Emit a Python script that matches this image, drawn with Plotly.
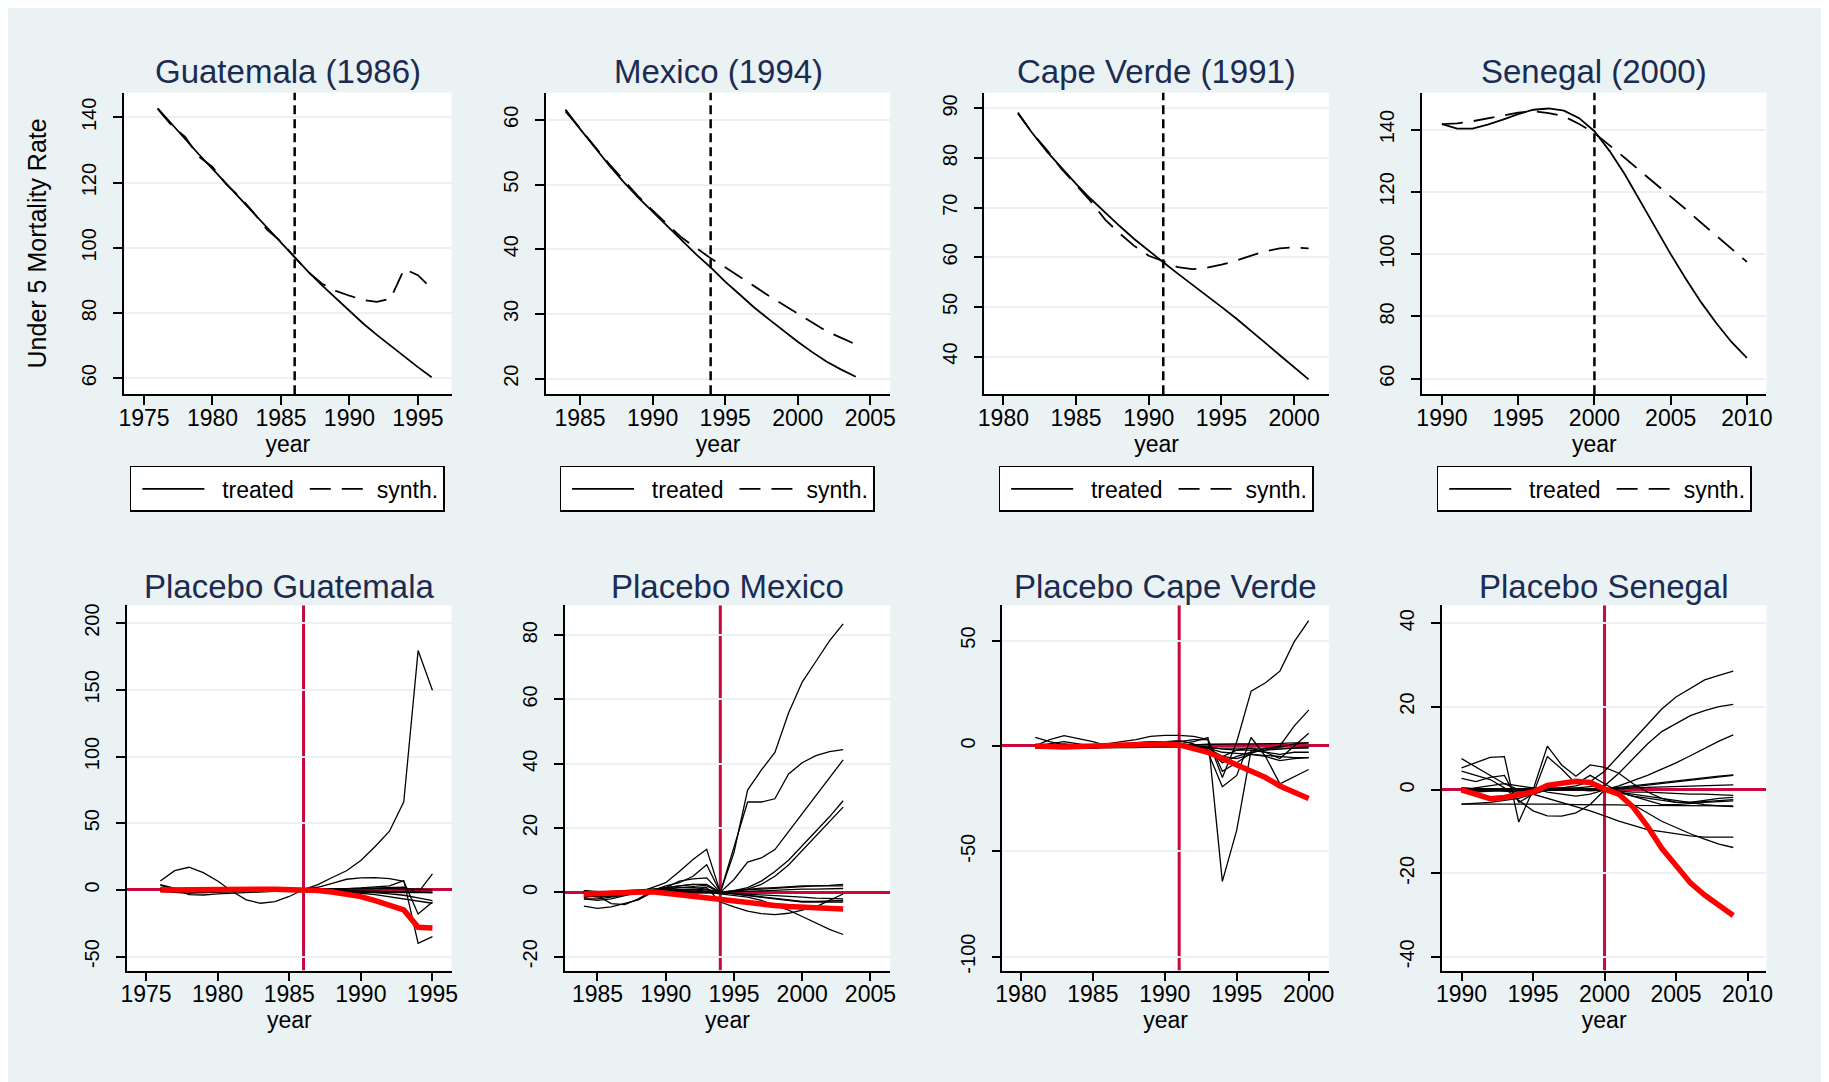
import plotly.graph_objects as go

# ---------------- DATA ----------------
# Top row: treated vs synthetic under-5 mortality
gua_years = list(range(1976, 1997))
gua_treated = [142.8, 138.0, 133.3, 128.7, 124.2, 119.7, 115.2, 110.5, 106.0, 101.5, 97.0,
               92.6, 88.5, 84.5, 80.6, 76.8, 73.3, 70.0, 66.6, 63.4, 60.3]
gua_synth = [142.6, 137.6, 134.0, 128.0, 124.8, 119.5, 115.6, 110.8, 105.5, 101.9, 97.1,
             92.5, 89.0, 86.8, 85.3, 84.0, 83.4, 84.4, 93.5, 91.6, 87.5]

mex_years = list(range(1984, 2005))
mex_treated = [61.6, 58.6, 55.8, 53.0, 50.4, 48.0, 45.8, 43.6, 41.4, 39.2, 37.2,
               35.0, 33.0, 31.0, 29.2, 27.4, 25.7, 24.1, 22.6, 21.4, 20.3]
mex_synth = [61.3, 58.7, 55.9, 53.2, 50.7, 48.2, 46.0, 43.9, 41.8, 40.2, 38.6,
             37.2, 35.8, 34.3, 32.8, 31.4, 30.0, 28.6, 27.3, 26.3, 25.3]

cpv_years = list(range(1981, 2002))
cpv_treated = [89.0, 85.0, 81.3, 78.0, 74.8, 71.8, 69.0, 66.3, 63.7, 61.3, 59.0,
               56.7, 54.5, 52.3, 50.0, 47.7, 45.3, 42.8, 40.3, 37.8, 35.4]
cpv_synth = [89.2, 85.0, 81.6, 77.8, 74.6, 71.3, 67.6, 64.8, 62.3, 60.3, 59.2,
             58.0, 57.6, 57.9, 58.5, 59.3, 60.3, 61.2, 61.8, 62.0, 61.8]

sen_years = list(range(1990, 2011))
sen_treated = [141.8, 140.3, 140.3, 141.6, 143.2, 145.0, 146.4, 146.8, 146.1, 143.7, 139.5,
               133.1, 125.6, 117.1, 108.5, 100.0, 92.0, 84.5, 77.8, 71.7, 66.7]
sen_synth = [141.8, 142.0, 142.7, 143.7, 144.6, 145.5, 145.9, 145.3, 144.3, 141.8, 138.9,
             135.0, 130.9, 126.7, 122.6, 118.7, 114.4, 110.1, 105.9, 101.6, 97.5]

# Bottom row: placebo gaps (black) and treated gap (red)
gua_pl_years = list(range(1976, 1996))
gua_gap = [0, 0.2, 0.3, 0.2, 0.1, 0.3, 0.5, 0.6, 0.5, 0.3, 0, -0.5, -1.5, -3, -5, -8, -11, -15, -28, -28.5]
gua_placebos = [
    [6.7, 14.4, 17.0, 13.0, 6.7, -1.0, -7.5, -10.0, -8.8, -4.9, 0.3, 4.0, 9.3, 14.4, 22.0, 32.5, 44.0, 66.0, 179.4, 149.7],
    [4.0, 1.0, -1.5, -2.0, -1.5, -1.0, -0.5, 0, 0.3, 0.5, 0.5, 2.0, 5.0, 8.0, 9.0, 9.2, 8.5, 6.5, -18.0, -9.0],
    [3.5, 0.5, -3.5, -3.8, -3.0, -2.5, -1.5, -1.0, -0.5, -0.5, 0, 0.3, 0.5, 1.0, 1.5, 2.0, 3.0, 7.0, -40.0, -35.0],
    [0.5, 0.5, 0.3, 0.2, 0.1, 0, 0, 0, 0.1, 0.2, 0.2, 0.4, 0.6, 0.8, 1.0, 1.2, 1.5, 2.0, -2.0, 12.0],
    [-1.0, -2.0, -2.5, -2.0, -1.5, -1.0, -0.5, -0.5, -0.3, 0, 0, -0.5, -1.0, -1.5, -2.5, -3.5, -5.0, -7.0, -8.5, -10.0],
    [1.5, 0.5, -0.5, -1.0, -1.0, -0.8, -0.5, -0.2, 0, 0.2, 0.3, 0.2, 0, -0.5, -1.0, -2.0, -3.0, -4.0, -6.0, -8.0],
    [0, -0.5, -1.0, -1.0, -1.0, -0.8, -0.5, -0.5, -0.5, -0.5, -0.5, -0.8, -1.0, -1.0, -1.0, -1.0, -1.2, -1.5, -1.5, -1.5],
    [-0.5, -1.0, -1.5, -1.5, -1.2, -1.0, -1.0, -1.0, -1.0, -1.0, -1.0, -1.2, -1.5, -1.8, -2.0, -2.0, -2.0, -2.0, -2.0, -2.0],
    [0.5, 0.3, 0, -0.3, -0.5, -0.5, -0.3, 0, 0.2, 0.3, 0.3, 0.5, 0.8, 1.0, 1.0, 1.0, 1.0, 1.0, 0.5, 0],
    [1.0, 0.5, 0, -0.5, -0.8, -0.8, -0.5, -0.2, 0, 0, 0, -0.3, -0.5, -0.8, -1.0, -1.3, -1.5, -1.5, -1.8, -2.0],
]

mex_pl_years = list(range(1984, 2004))
mex_gap = [-0.5, -0.3, 0, 0.2, 0.3, 0.2, -0.3, -0.8, -1.4, -2.0, -2.5, -3.0, -3.4, -3.8, -4.1, -4.4, -4.6, -4.8, -5.0, -5.2]
mex_placebos = [
    [-1.0, -1.5, -1.2, -0.8, -0.3, 0.5, 1.5, 2.0, 2.5, 2.0, 0, 12.4, 31.8, 38.0, 43.5, 55.8, 65.4, 71.8, 78.2, 83.5],
    [0.5, 0, -0.5, -0.5, 0, 0.8, 1.5, 2.0, 2.5, 2.5, 0, 14.0, 28.1, 28.1, 29.1, 36.8, 40.3, 42.5, 43.8, 44.4],
    [-2.0, -2.5, -2.0, -1.0, 0, 1.5, 3.0, 6.5, 10.2, 13.4, 0, 4.0, 9.4, 10.7, 13.3, 18.9, 24.5, 30.0, 35.5, 41.2],
    [0.3, -0.5, -1.0, -0.5, 0, 0.5, 2.0, 3.0, 5.0, 8.6, 0, 0.5, 1.5, 3.5, 6.5, 10.0, 14.5, 19.0, 23.5, 28.5],
    [-1.5, -1.0, -0.5, 0, 0.3, 0.8, 1.5, 3.5, 4.2, 4.5, 0, 0.3, 1.0, 2.5, 5.0, 8.5, 13.0, 17.5, 22.0, 26.5],
    [0, 0, 0.3, 0.5, 0.8, 1.0, 0.8, 0.5, 0.3, 0.1, -0.5, -1.0, -1.5, -2.5, -4.0, -5.5, -7.5, -9.5, -11.5, -13.1],
    [-4.3, -5.0, -4.5, -3.5, -2.3, 0, 1.0, 1.5, 1.8, 1.5, -3.0, -4.5, -5.8, -6.6, -6.9, -6.5, -5.5, -4.5, -2.5, -0.5],
    [0, -1.0, -3.5, -3.8, -2.0, 0.5, 1.2, 1.5, 1.5, 1.0, 0, -0.5, -1.0, -1.5, -2.0, -2.5, -2.8, -2.8, -2.6, -2.5],
    [-1.0, -1.2, -1.0, -0.5, 0, 0.2, 0.3, 0.5, 0.8, 0.5, 0, 0.3, 0.8, 1.0, 1.3, 1.6, 1.8, 2.0, 2.2, 2.5],
    [-0.5, -0.5, -0.3, 0, 0.2, 0.3, 0.3, 0.3, 0.2, 0, 0, 0.5, 1.0, 1.3, 1.5, 1.8, 2.0, 2.0, 2.0, 2.0],
    [-2.0, -2.0, -1.5, -0.8, 0, 0.5, 0.8, 1.0, 1.0, 0.8, 0, -0.3, -0.5, -0.8, -1.0, -1.3, -1.5, -1.8, -2.0, -2.0],
    [0.5, 0.2, 0, 0, 0, 0, 0.1, 0.1, 0, 0, 0, 0.2, 0.3, 0.5, 0.7, 0.8, 1.0, 1.0, 1.2, 1.2],
    [-1.5, -1.2, -0.8, -0.5, 0, 0.3, 0.5, 0.5, 0.3, 0.2, 0, -0.5, -1.0, -1.5, -2.0, -2.5, -3.0, -3.0, -3.0, -3.0],
]

cpv_pl_years = list(range(1981, 2001))
cpv_gap = [0, -0.5, -0.5, -0.3, 0, 0.3, 0.5, 0.8, 1.0, 1.0, 0.5, -1.0, -3.0, -6.0, -9.0, -12.0, -15.0, -19.0, -22.0, -25.0]
cpv_placebos = [
    [0, 1.0, 2.0, 1.0, 0, 0.5, 1.0, 1.5, 2.0, 2.0, 2.0, 3.0, 3.0, -15.0, 2.0, 26.0, 30.0, 35.5, 49.5, 59.5],
    [0, 0.5, 1.0, 0.5, 0, 0, 0.3, 0.5, 1.0, 1.0, 1.0, 2.0, 4.0, -64.3, -40.0, -2.0, -3.0, -4.0, -3.0, -3.0],
    [0.5, 0, -0.5, -0.5, -0.3, 0, 0.5, 1.0, 1.5, 2.0, 2.5, 1.0, -3.0, -19.4, -14.0, 4.0, -5.0, -18.0, -14.5, -11.2],
    [0, 0, 0, 0, 0, 0, 0, 0, 0, 0, 0, -0.5, -2.0, -8.0, -5.0, -3.0, -2.0, 0, 9.5, 17.0],
    [4.1, 2.0, 0.5, -0.5, -1.0, -0.5, 0, 0, 0, 0, 0, 0, -1.0, -5.0, -2.0, -1.0, -3.0, -6.0, 0, 6.0],
    [0, 3.0, 4.9, 3.5, 2.0, 0, -0.5, 0, 0.5, 1.0, 0.5, 0, -1.0, -3.0, -3.5, -4.0, -4.5, -5.0, -5.5, -5.5],
    [-0.5, -0.5, -0.3, 0, 0.5, 1.0, 2.0, 3.0, 4.5, 5.0, 5.0, 4.5, 3.0, -12.0, -8.0, -3.5, -1.0, -0.5, 1.0, 1.5],
    [-1, -1, -1, -1, -1, -1, -1, -0.8, -0.5, -0.5, -0.5, -0.5, -1.0, -1.0, -1.0, -1.0, -1.0, -1.0, -1.0, -1.0],
    [0.5, 0.5, 0.5, 0.5, 0.3, 0.3, 0.3, 0.3, 0.3, 0.3, 0.3, 0.5, 0.8, 1.0, 1.0, 1.0, 1.0, 1.2, 1.5, 1.5],
    [-0.3, -0.5, -0.8, -1.0, -1.0, -0.5, 0, 0.3, 0.5, 0.5, 0.3, 0, -2.0, -5.0, -6.0, -4.0, -5.0, -7.0, -6.0, -5.5],
    [0, 0, 0, 0, 0, 0, 0, 0, 0, 0, 0, 0, -0.5, -1.5, -2.0, -2.0, -2.0, -1.5, -1.0, -0.5],
]

sen_pl_years = list(range(1990, 2010))
sen_gap = [0, -1.0, -2.1, -1.8, -1.3, -0.5, 1.1, 1.6, 2.1, 1.8, 0.2, -1.0, -4.1, -8.7, -14.0, -18.1, -22.3, -25.2, -27.6, -30.1]
sen_placebos = [
    [-3.4, -3.2, -3.0, -2.5, -2.0, -1.0, 0, 0.5, 1.0, 2.0, 4.5, 8.2, 12.0, 15.7, 19.4, 22.3, 24.3, 26.4, 27.5, 28.5],
    [0.5, 0.3, 0, 0, 0.2, 0.3, 0.5, 0.5, 0.5, 0.8, 1.0, 4.0, 7.5, 11.0, 14.0, 16.0, 17.8, 19.0, 20.0, 20.5],
    [0, 0, 0, 0, 0, 0, 0, 0, 0, 0, 0, 1.0, 2.2, 3.5, 5.0, 6.5, 8.2, 10.0, 11.7, 13.2],
    [0.3, 0.3, 0.3, 0.3, 0.2, 0.2, 0.2, 0.2, 0.2, 0.3, 0.3, 0.6, 1.0, 1.4, 1.8, 2.2, 2.6, 3.0, 3.3, 3.6],
    [-0.3, -0.3, -0.3, -0.2, -0.2, -0.1, 0, 0, 0, 0, 0, 0.4, 0.8, 1.2, 1.6, 2.0, 2.4, 2.8, 3.2, 3.5],
    [7.5, 5.5, 3.5, 1.5, 0, -1.0, -2.0, -3.0, -4.0, -5.0, -6.2, -7.5, -8.5, -9.5, -10.0, -10.5, -11.0, -11.3, -11.3, -11.3],
    [0, 0, 0, 0, 0, 0, 0, 0, 0, 0, 0, -1.5, -3.5, -5.5, -7.5, -9.0, -10.5, -11.8, -13.0, -13.8],
    [5.3, 6.5, 7.8, 8.0, -7.7, 0, 10.5, 6.0, 3.3, 6.0, 5.4, 4.0, 1.5, -0.5, -2.0, -3.0, -3.0, -2.8, -2.5, -2.3],
    [2.8, 2.0, 3.0, 3.5, -3.0, -1.0, 8.0, 5.0, 1.5, 3.5, 1.5, -0.5, -1.5, -2.0, -2.5, -3.0, -3.0, -2.5, -2.0, -1.8],
    [4.5, 3.5, 2.5, 0.5, -2.5, -5.0, -6.2, -6.3, -5.5, -3.5, 0, -0.5, -1.0, -1.5, -2.0, -2.5, -3.0, -3.5, -3.8, -4.0],
    [-3.4, -3.4, -3.3, -3.3, -3.3, -3.3, -3.4, -3.4, -3.5, -3.5, -3.6, -3.6, -3.7, -3.7, -3.8, -3.8, -3.8, -3.8, -3.8, -3.8],
    [0.5, 0.3, 0, -0.3, -0.5, -0.3, 0, 0.2, 0.3, 0.2, 0, -0.3, -0.5, -0.5, -0.7, -0.8, -1.0, -1.0, -1.2, -1.3],
    [-0.5, -0.5, -0.3, 0, 0.3, 0.5, 0.5, 0.3, 0, -0.2, 0, 0.3, 0.5, 0.6, 0.7, 0.8, 0.9, 1.0, 1.1, 1.2],
    [0, 0.5, 1.0, 1.5, 1.0, 0.5, -0.5, -1.0, -1.5, -1.0, 0, -0.5, -1.5, -2.5, -3.5, -3.5, -3.2, -3.0, -2.8, -2.6],
]

top_titles = ["Guatemala (1986)", "Mexico (1994)", "Cape Verde (1991)", "Senegal (2000)"]
bottom_titles = ["Placebo Guatemala", "Placebo Mexico", "Placebo Cape Verde", "Placebo Senegal"]
legend_names = ["\u00a0\u00a0treated", "synth."]
treat_years = [1986, 1994, 1991, 2000]

top_xticks = [[1975, 1980, 1985, 1990, 1995], [1985, 1990, 1995, 2000, 2005],
              [1980, 1985, 1990, 1995, 2000], [1990, 1995, 2000, 2005, 2010]]
top_yticks = [[60, 80, 100, 120, 140], [20, 30, 40, 50, 60],
              [40, 50, 60, 70, 80, 90], [60, 80, 100, 120, 140]]
bot_xticks = top_xticks
bot_yticks = [[-50, 0, 50, 100, 150, 200], [-20, 0, 20, 40, 60, 80],
              [-100, -50, 0, 50], [-40, -20, 0, 20, 40]]

# ---------------- STYLE / LAYOUT ----------------
OFF = 8                      # page body margin
W, H = 1829 - OFF, 1082 - OFF
BG = "#EAF2F3"
NAVY = "#1C2B52"
CRIMSON = "#C8073A"
FONT = "Liberation Sans, Arial, Helvetica, sans-serif"

# plot-area pixel boxes in page coordinates
top_boxes = [(118, 448), (543, 890), (985, 1332), (1426, 1773)]
bot_boxes = [(121, 448), (562, 890), (1003, 1332), (1446, 1773)]
top_y = (91, 394)
bot_y = (606, 973)
legend_boxes = [(128, 437), (553, 878), (995, 1321), (1437, 1762)]

top_xr = [[1973.55, 1997.46], [1982.65, 2006.37], [1978.7, 2002.39], [1988.7, 2011.28]]
top_yr = [[55.1, 147.6], [17.6, 64.2], [32.4, 93.2], [55.0, 151.9]]
bot_xr = [[1973.68, 1996.34], [1982.6, 2006.45], [1978.71, 2001.4], [1988.63, 2011.32]]
bot_yr = [[-60.4, 213.4], [-24.3, 89.3], [-106.6, 66.8], [-43.3, 44.3]]


def fx(px):
    return (px - OFF) / W


def fy(py):
    return 1 - (py - OFF) / H


axis_common = dict(
    showline=True, linecolor="black", linewidth=1.5,
    ticks="outside", ticklen=9, tickwidth=1.5, tickcolor="black",
    zeroline=False, mirror=False, fixedrange=True,
)
xaxis_common = dict(axis_common, showgrid=False, tickfont=dict(size=23), ticklabelstandoff=-7,
                    title=dict(text="year", font=dict(size=23), standoff=0))
yaxis_common = dict(axis_common, showgrid=True, gridcolor=BG, gridwidth=1.5,
                    tickfont=dict(size=20), tickangle=-90, ticklabelstandoff=9)

top_data = [(gua_years, gua_treated, gua_synth), (mex_years, mex_treated, mex_synth),
            (cpv_years, cpv_treated, cpv_synth), (sen_years, sen_treated, sen_synth)]
bot_data = [(gua_pl_years, gua_gap, gua_placebos), (mex_pl_years, mex_gap, mex_placebos),
            (cpv_pl_years, cpv_gap, cpv_placebos), (sen_pl_years, sen_gap, sen_placebos)]

fig = go.Figure()
layout = dict(
    width=W, height=H, autosize=False,
    margin=dict(l=0, r=0, t=0, b=0),
    paper_bgcolor=BG, plot_bgcolor="white",
    font=dict(family=FONT, color="black"),
    showlegend=True,
)
shapes = []
annotations = []

for i in range(4):
    # ---- top panel ----
    n = i + 1
    xa = "x" if n == 1 else f"x{n}"
    ya = "y" if n == 1 else f"y{n}"
    lg = "legend" if n == 1 else f"legend{n}"
    years, tr, sy = top_data[i]
    fig.add_trace(go.Scatter(x=years, y=tr, mode="lines", name=legend_names[0],
                             line=dict(color="black", width=1.8),
                             xaxis=xa, yaxis=ya, legend=lg))
    fig.add_trace(go.Scatter(x=years, y=sy, mode="lines", name=legend_names[1],
                             line=dict(color="black", width=1.8, dash="21px,11px"),
                             xaxis=xa, yaxis=ya, legend=lg))
    l, r = top_boxes[i]
    xkey = "xaxis" if n == 1 else f"xaxis{n}"
    ykey = "yaxis" if n == 1 else f"yaxis{n}"
    layout[xkey] = dict(xaxis_common, domain=[fx(l), fx(r)], anchor=ya, range=top_xr[i],
                        tickvals=top_xticks[i], ticktext=[str(v) for v in top_xticks[i]])
    layout[ykey] = dict(yaxis_common, domain=[fy(top_y[1]), fy(top_y[0])], anchor=xa, range=top_yr[i],
                        tickvals=top_yticks[i], ticktext=[str(v) for v in top_yticks[i]])
    if n == 1:
        layout[ykey]["title"] = dict(text="Under 5 Mortality Rate", font=dict(size=25), standoff=25)
    lb_l, lb_r = legend_boxes[i]
    layout[lg] = dict(orientation="h", x=fx((lb_l + lb_r) / 2), xanchor="center",
                      y=fy(466), yanchor="top", xref="paper", yref="paper",
                      bgcolor="white", bordercolor="black", borderwidth=1.5,
                      font=dict(size=23, color="black"), itemwidth=62, indentation=6,
                      itemclick=False, itemdoubleclick=False)
    shapes.append(dict(type="line", xref=xa, yref=ya, x0=treat_years[i], x1=treat_years[i],
                       y0=top_yr[i][0], y1=top_yr[i][1],
                       line=dict(color="black", width=2.5, dash="9px,5px"), layer="above"))
    annotations.append(dict(text=top_titles[i], x=fx((l + r) / 2), y=fy(70), xref="paper", yref="paper",
                            showarrow=False, xanchor="center", yanchor="middle",
                            font=dict(size=33, color=NAVY, family=FONT)))

    # ---- bottom panel ----
    m = i + 5
    xb = f"x{m}"
    yb = f"y{m}"
    years, gap, placebos = bot_data[i]
    for series in placebos:
        fig.add_trace(go.Scatter(x=years, y=series, mode="lines", showlegend=False,
                                 line=dict(color="black", width=1.3), xaxis=xb, yaxis=yb))
    fig.add_trace(go.Scatter(x=years, y=gap, mode="lines", showlegend=False,
                             line=dict(color="#FF0000", width=5.5), xaxis=xb, yaxis=yb))
    l, r = bot_boxes[i]
    layout[f"xaxis{m}"] = dict(xaxis_common, domain=[fx(l), fx(r)], anchor=yb, range=bot_xr[i],
                               tickvals=bot_xticks[i], ticktext=[str(v) for v in bot_xticks[i]])
    layout[f"yaxis{m}"] = dict(yaxis_common, domain=[fy(bot_y[1]), fy(bot_y[0])], anchor=xb, range=bot_yr[i],
                               tickvals=bot_yticks[i], ticktext=[str(v) for v in bot_yticks[i]],
                               zeroline=True, zerolinecolor=CRIMSON, zerolinewidth=3)
    shapes.append(dict(type="line", xref=xb, yref=yb, x0=treat_years[i], x1=treat_years[i],
                       y0=bot_yr[i][0], y1=bot_yr[i][1],
                       line=dict(color=CRIMSON, width=3), layer="below"))
    annotations.append(dict(text=bottom_titles[i], x=fx((l + r) / 2), y=fy(587), xref="paper", yref="paper",
                            showarrow=False, xanchor="center", yanchor="middle",
                            font=dict(size=33, color=NAVY, family=FONT)))

layout["shapes"] = shapes
layout["annotations"] = annotations
fig.update_layout(**layout)
fig.write_html("out.html")
